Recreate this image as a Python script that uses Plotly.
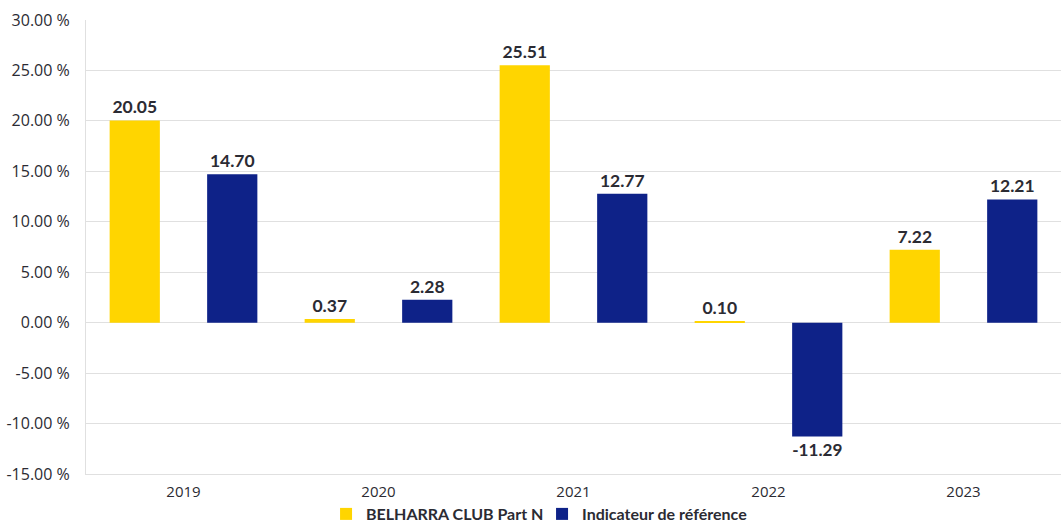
import plotly.graph_objects as go

years = ["2019", "2020", "2021", "2022", "2023"]
fund_name = "BELHARRA CLUB Part N"
bench_name = "Indicateur de référence"
fund = [20.05, 0.37, 25.51, 0.10, 7.22]
bench = [14.70, 2.28, 12.77, -11.29, 12.21]
y_ticks = [-15, -10, -5, 0, 5, 10, 15, 20, 25, 30]

YELLOW = "#FFD500"
BLUE = "#0E2288"
TXT = "#2B2B33"

fig = go.Figure()
for name, vals, col in [(fund_name, fund, YELLOW), (bench_name, bench, BLUE)]:
    fig.add_trace(go.Bar(
        x=years, y=vals, name=name, marker=dict(color=col, line=dict(width=0)),
        text=[f"{v:.2f}" for v in vals], textposition="outside",
        textfont=dict(family="Lato", size=17.5, color=TXT, weight="bold"),
        cliponaxis=False, hoverinfo="skip",
    ))

fig.update_layout(
    width=1061, height=523,
    margin=dict(l=86, r=0, t=20, b=49, autoexpand=False),
    paper_bgcolor="white", plot_bgcolor="white",
    barmode="group", bargap=0.0, bargroupgap=0.485,
    showlegend=True,
    legend=dict(orientation="h", xref="paper", yref="paper",
                x=0.2462, xanchor="left", y=-0.0881, yanchor="middle",
                font=dict(family="Lato", size=16, color=TXT, weight="bold"),
                itemwidth=30, entrywidth=171, entrywidthmode="pixels",
                traceorder="normal", bgcolor="rgba(0,0,0,0)"),
)
fig.update_xaxes(
    showgrid=False, showline=True, linecolor="#E0E0E0", linewidth=1,
    ticks="", tickfont=dict(family="Open Sans", size=15, color=TXT),
    ticklabelstandoff=4,
)
fig.update_yaxes(
    range=[-15, 30], tickvals=y_ticks, ticktext=[f"{v:.2f} %" for v in y_ticks],
    showgrid=True, gridcolor="#E0E0E0", gridwidth=1,
    zeroline=True, zerolinecolor="#E0E0E0", zerolinewidth=1,
    showline=True, linecolor="#E0E0E0", linewidth=1,
    ticks="", tickfont=dict(family="Open Sans", size=16, color=TXT),
    ticklabelstandoff=12,
)

fig.write_html("out.html", config={"displayModeBar": False},
               post_script="document.body.style.margin='0';")
